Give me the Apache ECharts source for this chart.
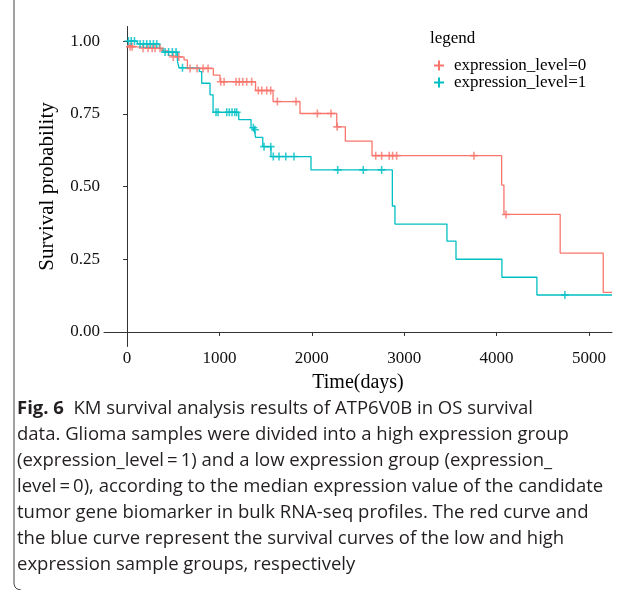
<!DOCTYPE html>
<html>
<head>
<meta charset="utf-8">
<script src="https://cdn.jsdelivr.net/npm/echarts@6/dist/echarts.min.js"></script>
<style>
  html, body { margin: 0; padding: 0; background: #fff; }
  #chart { width: 633px; height: 590px; }
</style>
</head>
<body>
<div id="chart"></div>
<script>
// KM step points: survival drops to s[i] at time t[i]
var redTimes = [0, 25, 111, 376, 447, 473, 617, 653, 934, 1006, 1391, 1580, 1872, 2270, 2363, 2652, 4055, 4080, 4689, 5155, 5250];
var redSurv = [0.985, 0.98, 0.975, 0.966, 0.95, 0.945, 0.935, 0.906, 0.883, 0.86, 0.83, 0.792, 0.751, 0.705, 0.656, 0.606, 0.505, 0.404, 0.271, 0.136, 0.136];
var blueTimes = [0, 111, 350, 390, 545, 563, 782, 808, 898, 931, 1209, 1342, 1378, 1391, 1469, 1558, 1991, 2872, 2900, 3463, 3561, 4058, 4437, 5250];
var blueSurv = [1.0, 0.99, 0.975, 0.962, 0.93, 0.908, 0.895, 0.855, 0.815, 0.755, 0.730, 0.702, 0.695, 0.669, 0.637, 0.603, 0.557, 0.433, 0.371, 0.312, 0.25, 0.188, 0.127, 0.127];

// censored times
var redCensor = [32, 54, 173, 227, 271, 303, 357, 500, 560, 682, 758, 823, 877, 1014, 1050, 1180, 1215, 1252, 1295, 1349, 1421, 1458, 1512, 1555, 1627, 1829, 2060, 2208, 2275, 2692, 2756, 2838, 2875, 2918, 3755, 4102];
var blueCensor = [15, 45, 80, 141, 177, 213, 249, 285, 321, 411, 450, 490, 530, 600, 963, 985, 1079, 1107, 1136, 1166, 1187, 1367, 1385, 1483, 1555, 1583, 1645, 1718, 1807, 2280, 2557, 2756, 4740];

var xTicks = [0, 1000, 2000, 3000, 4000, 5000];
var yTicks = [0, 0.25, 0.5, 0.75, 1];
var groupNames = ['expression_level=0', 'expression_level=1'];

var RED = '#F8766D', BLUE = '#00BFC4';
var PLUS = 'path://M4,0H6V4H10V6H6V10H4V6H0V4H4Z';
var SERIF = '"Liberation Serif", "Times New Roman", serif';
var SANS = '"Open Sans", sans-serif';

function zip(t, s) {
    return t.map(function (v, i) { return [v, s[i]]; });
}
function survAt(t, s, time) {
    var v = s[0];
    for (var i = 0; i < t.length; i++) {
        if (t[i] <= time) v = s[i];
    }
    return v;
}
function censorPts(ct, t, s) {
    return ct.map(function (c) { return [c, survAt(t, s, c)]; });
}

var captionLines = [
    'data. Glioma samples were divided into a high expression group',
    '(expression_level\u2009=\u20091) and a low expression group (expression_',
    'level\u2009=\u20090), according to the median expression value of the candidate',
    'tumor gene biomarker in bulk RNA-seq profiles. The red curve and',
    'the blue curve represent the survival curves of the low and high',
    'expression sample groups, respectively'
];

var graphics = [
    {
        type: 'text', left: 430, top: 30,
        style: { text: 'legend', font: '17px ' + SERIF, fill: '#000' }
    },
    {
        type: 'text', left: 17, top: 399,
        style: {
            text: '{b|Fig. 6}  KM survival analysis results of ATP6V0B in OS survival',
            font: '18.5px ' + SANS, fill: '#231f20',
            rich: { b: { fontWeight: 'bold', fontFamily: 'Open Sans', fontSize: 18.5, fill: '#231f20' } }
        }
    },
    {
        type: 'polyline', silent: true,
        shape: { points: [[14, 0], [14, 584], [15, 587], [17, 589], [21, 590]] },
        style: { stroke: '#444', lineWidth: 1, fill: null }
    }
];
captionLines.forEach(function (line, i) {
    graphics.push({
        type: 'text', left: 17, top: 425 + 26 * i,
        style: { text: line, font: '18.5px ' + SANS, fill: '#231f20' }
    });
});

var chart = echarts.init(document.getElementById('chart'));
chart.setOption({
    animation: false,
    backgroundColor: '#fff',
    grid: { left: 104, right: 21, top: 26.5, bottom: 243.5 },
    legend: {
        orient: 'vertical',
        left: 429,
        top: 52,
        itemWidth: 10,
        itemHeight: 10,
        itemGap: 0,
        data: [
            { name: groupNames[0], icon: PLUS, itemStyle: { color: RED } },
            { name: groupNames[1], icon: PLUS, itemStyle: { color: BLUE } }
        ],
        textStyle: { fontFamily: SERIF, fontSize: 17, color: '#000', lineHeight: 16, padding: [0, 0, 0, 5] }
    },
    xAxis: {
        type: 'value',
        min: -250,
        max: 5250,
        name: 'Time(days)',
        nameLocation: 'middle',
        nameGap: 24,
        nameTextStyle: { fontFamily: SERIF, fontSize: 20, color: '#000' },
        axisLine: { lineStyle: { color: '#333', width: 1 } },
        axisTick: { show: true, length: 4, customValues: xTicks, lineStyle: { color: '#333' } },
        axisLabel: {
            customValues: xTicks, fontFamily: SERIF, fontSize: 17, color: '#111', margin: 4,
            formatter: function (v) { return String(v); }
        },
        splitLine: { show: false }
    },
    yAxis: {
        type: 'value',
        min: -0.05,
        max: 1.05,
        name: 'Survival probability',
        nameLocation: 'middle',
        nameRotate: 90,
        nameGap: 46,
        nameTextStyle: { fontFamily: SERIF, fontSize: 21, color: '#000' },
        axisLine: { show: true, lineStyle: { color: '#333', width: 1 } },
        axisTick: { show: true, length: 4, customValues: yTicks, lineStyle: { color: '#333' } },
        axisLabel: {
            customValues: yTicks, fontFamily: SERIF, fontSize: 17, color: '#111', margin: 4,
            formatter: function (v) { return v.toFixed(2); }
        },
        splitLine: { show: false }
    },
    series: [
        {
            name: groupNames[0], type: 'line', step: 'end', data: zip(redTimes, redSurv),
            showSymbol: false, lineStyle: { color: RED, width: 1.3 }, itemStyle: { color: RED }, z: 2
        },
        {
            name: groupNames[1], type: 'line', step: 'end', data: zip(blueTimes, blueSurv),
            showSymbol: false, lineStyle: { color: BLUE, width: 1.3 }, itemStyle: { color: BLUE }, z: 3
        },
        {
            name: groupNames[0], type: 'scatter', data: censorPts(redCensor, redTimes, redSurv),
            symbol: PLUS, symbolSize: 8, itemStyle: { color: RED }, z: 4
        },
        {
            name: groupNames[1], type: 'scatter', data: censorPts(blueCensor, blueTimes, blueSurv),
            symbol: PLUS, symbolSize: 8, itemStyle: { color: BLUE }, z: 5
        }
    ],
    graphic: graphics
});
</script>
</body>
</html>
